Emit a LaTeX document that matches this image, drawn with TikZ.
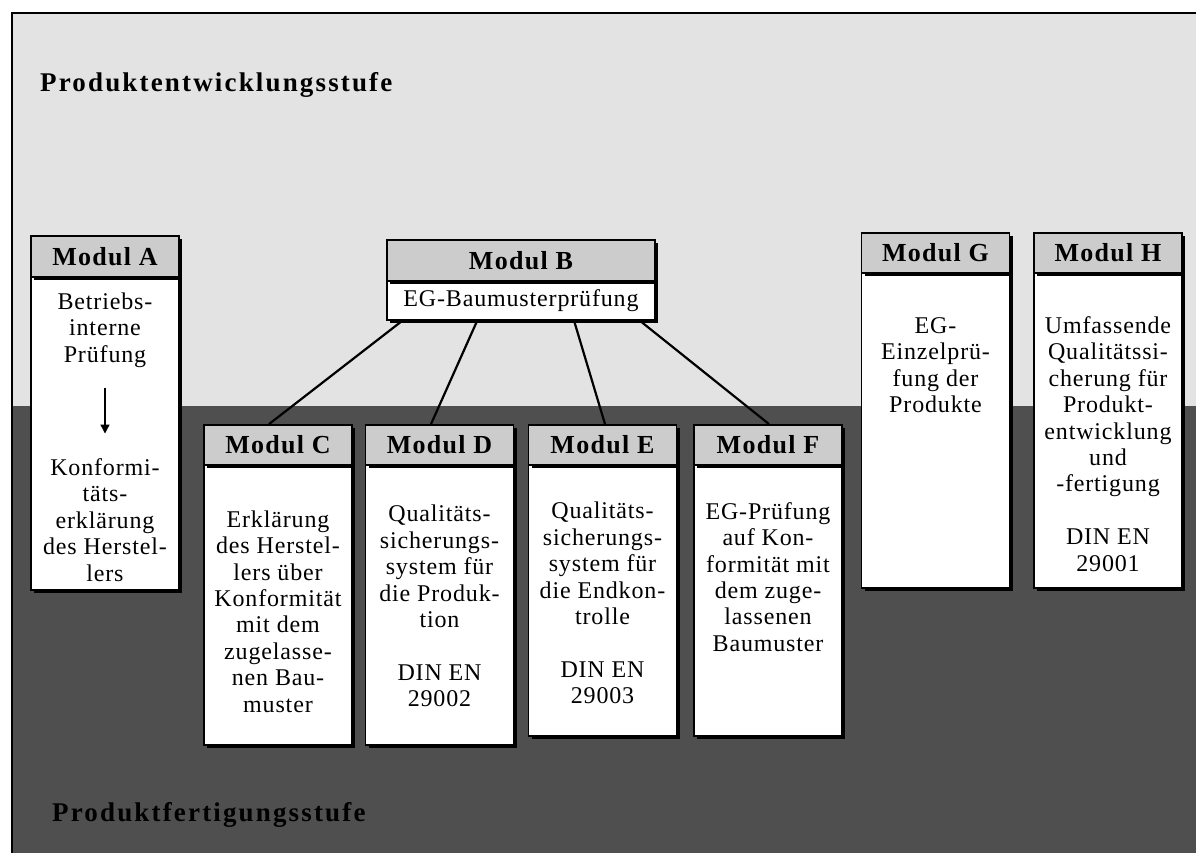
\documentclass[tikz,border=0pt]{standalone}
\usepackage{fontspec}
\setmainfont{Liberation Serif}
\newfontfamily\bodyf[LetterSpace=3.5]{Liberation Serif}
\newfontfamily\hdrf[LetterSpace=5]{Liberation Serif}
\newfontfamily\ttlf[LetterSpace=8]{Liberation Serif}
\usetikzlibrary{shadows,calc,arrows.meta}
\definecolor{topgray}{gray}{0.89}
\definecolor{botgray}{gray}{0.31}
\definecolor{hdrgray}{gray}{0.80}
\tikzset{
  shad/.style={drop shadow={shadow xshift=3pt,shadow yshift=-3pt,opacity=1,fill=black}},
  hdr/.style={draw,line width=1.8pt,fill=hdrgray,inner sep=0pt,minimum width=148pt,
    font=\hdrf\bfseries\fontsize{26}{28}\selectfont,shad},
  bodybox/.style={draw,line width=1.8pt,fill=white,inner sep=0pt,minimum width=148pt,shad},
  txt/.style={align=center,inner sep=0pt,font=\bodyf\fontsize{24}{26.4}\selectfont},
  ttl/.style={inner sep=0pt,anchor=base west,font=\ttlf\bfseries\fontsize{27}{30}\selectfont},
  conn/.style={line width=2.2pt}
}
\begin{document}
\begin{tikzpicture}[x=1pt,y=-1pt]
\useasboundingbox (0,0) rectangle (1196,853);
% background
\fill[white] (0,0) rectangle (1196,853);
\fill[topgray] (12,13) rectangle (1196,406);
\fill[botgray] (12,406) rectangle (1196,853);
\draw[line width=1.2pt] (12,853) -- (12,13) -- (1196,13);
\node[ttl] (top) at (40,92) {Produktentwicklungsstufe};
\node[ttl,text=black] (bot) at (52,821) {Produktfertigungsstufe};

% Modul A
\node[bodybox,minimum height=313pt] (Ab) at (105,433.5) {};
\node[hdr,minimum height=41pt] (Ah) at (105,256.5) {Modul A};
\node[txt] (At1) at (105,330) {Betriebs-\\interne\\Prüfung};
\node[txt] (At2) at (105,520) {Konformi-\\täts-\\erklärung\\des Herstel-\\lers};
\draw[line width=1.3pt,-{Triangle[length=9pt,width=9pt]}] (At1.south) ++(0,20) coordinate (arA) -- ++(0,46) coordinate (arB);

% Modul B
\node[bodybox,minimum width=268pt,minimum height=39pt,txt] (Bb) at (521,300.5) {EG-Baumusterprüfung};
\node[hdr,minimum width=268pt,minimum height=41pt] (Bh) at (521,260.5) {Modul B};

% Modul C
\node[bodybox,minimum height=280pt] (Cb) at (278,605) {};
\node[hdr,minimum height=40pt] (Ch) at (278,445) {Modul C};
\node[txt] (Ct) at (278,611.5) {Erklärung\\des Herstel-\\lers über\\Konformität\\mit dem\\zugelasse-\\nen Bau-\\muster};

% Modul D
\node[bodybox,minimum height=280pt] (Db) at (439.5,605) {};
\node[hdr,minimum height=40pt] (Dh) at (439.5,445) {Modul D};
\node[txt] (Dt) at (439.5,606) {Qualitäts-\\sicherungs-\\system für\\die Produk-\\tion\\[26.4pt]DIN EN\\29002};

% Modul E
\node[bodybox,minimum height=271pt] (Eb) at (602.5,600.5) {};
\node[hdr,minimum height=40pt] (Eh) at (602.5,445) {Modul E};
\node[txt] (Et) at (602.5,603) {Qualitäts-\\sicherungs-\\system für\\die Endkon-\\trolle\\[26.4pt]DIN EN\\29003};

% Modul F
\node[bodybox,minimum height=271pt] (Fb) at (768,600.5) {};
\node[hdr,minimum height=40pt] (Fh) at (768,445) {Modul F};
\node[txt] (Ft) at (768,577) {EG-Prüfung\\auf Kon-\\formität mit\\dem zuge-\\lassenen\\Baumuster};

% Modul G
\node[bodybox,minimum height=315pt] (Gb) at (935.5,430.5) {};
\node[hdr,minimum height=40pt] (Gh) at (935.5,253) {Modul G};
\node[txt] (Gt) at (935.5,365) {EG-\\Einzelprü-\\fung der\\Produkte};

% Modul H
\node[bodybox,minimum height=315pt] (Hb) at (1108,430.5) {};
\node[hdr,minimum height=40pt] (Hh) at (1108,253) {Modul H};
\node[txt] (Ht) at (1108,444) {Umfassende\\Qualitätssi-\\cherung für\\Produkt-\\entwicklung\\und\\-fertigung\\[26.4pt]DIN EN\\29001};

% connectors
\draw[conn] ($(Bb.south west)+(16,0)$) -- ($(Ch.north)+(-9,0)$);
\draw[conn] ($(Bb.south west)+(91,0)$) -- ($(Dh.north)+(-8.5,0)$);
\draw[conn] ($(Bb.south west)+(188,0)$) -- ($(Eh.north)+(2.5,0)$);
\draw[conn] ($(Bb.south west)+(254,0)$) -- ($(Fh.north)+(1,0)$);
\end{tikzpicture}
\end{document}
